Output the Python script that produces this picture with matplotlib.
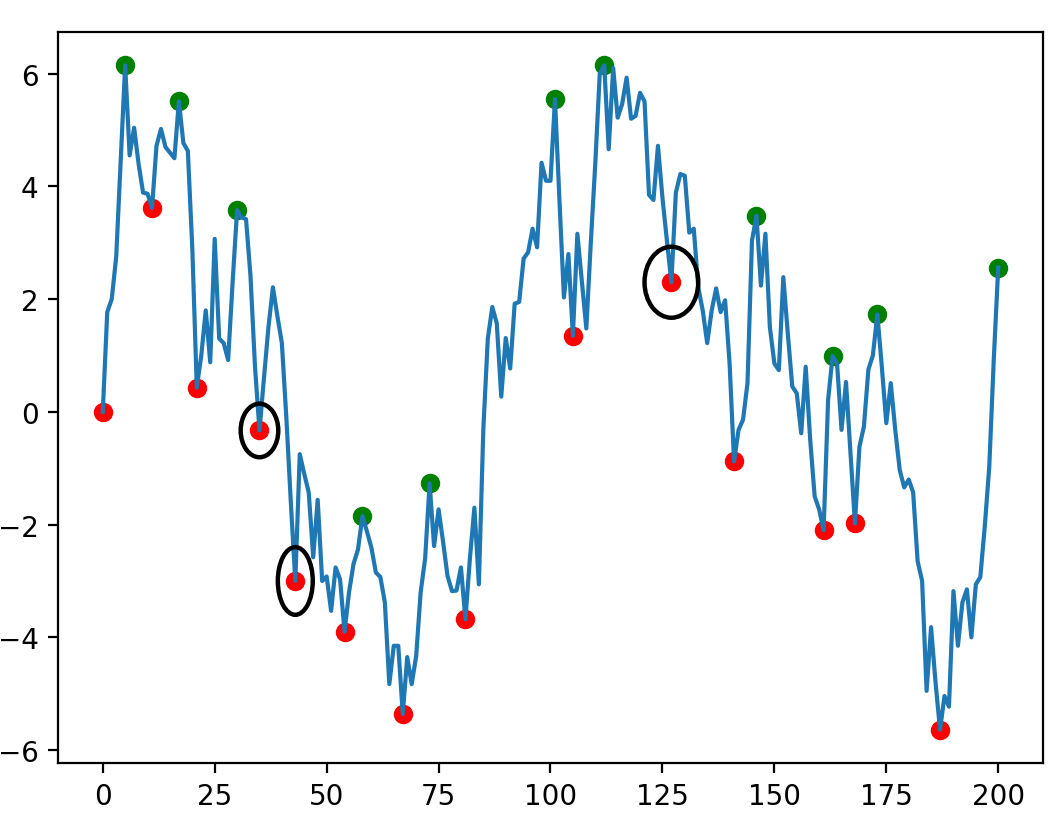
import matplotlib
matplotlib.use("Agg")
import matplotlib.pyplot as plt
from matplotlib.patches import Ellipse
import numpy as np

values = [
    0.0, 1.77, 2.0, 2.75, 4.45, 6.15, 4.55, 5.04, 4.4, 3.89,
    3.87, 3.62, 4.72, 5.02, 4.7, 4.6, 4.5, 5.51, 4.77, 4.63,
    2.9, 0.43, 1.0, 1.8, 0.88, 3.07, 1.3, 1.22, 0.92, 2.3,
    3.58, 3.45, 3.42, 2.4, 0.8, -0.33, 0.6, 1.5, 2.21, 1.7,
    1.22, -0.1, -1.6, -3.0, -0.75, -1.1, -1.43, -2.58, -1.56, -3.0,
    -2.92, -3.53, -2.76, -2.97, -3.9, -3.2, -2.7, -2.44, -1.85, -2.12,
    -2.41, -2.85, -2.93, -3.38, -4.83, -4.15, -4.15, -5.36, -4.35, -4.83,
    -4.33, -3.2, -2.6, -1.27, -2.38, -1.73, -2.3, -2.91, -3.18, -3.17,
    -2.76, -3.68, -2.6, -1.7, -3.06, -0.3, 1.3, 1.86, 1.57, 0.27,
    1.31, 0.77, 1.92, 1.95, 2.72, 2.83, 3.25, 2.92, 4.42, 4.1,
    4.1, 5.55, 3.75, 2.03, 2.8, 1.35, 3.16, 2.33, 1.48, 3.0,
    4.4, 6.0, 6.15, 4.66, 6.1, 5.22, 5.46, 5.93, 5.2, 5.25,
    5.66, 5.51, 3.85, 3.76, 4.72, 3.8, 3.04, 2.3, 3.89, 4.22,
    4.19, 3.18, 3.25, 2.21, 1.8, 1.22, 1.8, 2.19, 1.77, 1.98,
    0.86, -0.88, -0.32, -0.14, 0.51, 3.04, 3.48, 2.24, 3.16, 1.5,
    0.86, 0.74, 2.39, 1.39, 0.45, 0.33, -0.38, 0.8, -0.49, -1.5,
    -1.73, -2.1, 0.21, 0.99, 0.86, -0.32, 0.53, -0.73, -1.98, -0.62,
    -0.26, 0.75, 1.0, 1.73, 0.8, -0.2, 0.51, -0.32, -1.03, -1.34,
    -1.2, -1.43, -2.65, -3.0, -4.95, -3.82, -4.8, -5.64, -5.04, -5.23,
    -3.18, -4.15, -3.38, -3.15, -4.0, -3.06, -2.93, -2.03, -0.97, 0.92,
    2.56,
]
steps = list(range(len(values)))

peak_idx = [5, 17, 30, 58, 73, 101, 112, 146, 163, 173, 200]
trough_idx = [0, 11, 21, 35, 43, 54, 67, 81, 105, 127, 141, 161, 168, 187]
circled_idx = [35, 43, 127]

fig = plt.figure(figsize=(5.32, 4.145), dpi=200)
ax = fig.add_axes([58 / 1064, (829 - 764) / 829, (1043 - 58) / 1064, (764 - 33) / 829])

y = np.array(values)
x = np.array(steps)

ax.scatter(x[peak_idx], y[peak_idx], color="green")
ax.scatter(x[trough_idx], y[trough_idx], color="red")
ax.plot(x, y)

ell_w = [8.4, 7.8, 12.0]
ell_h = [0.95, 1.2, 1.26]
for i, w, h in zip(circled_idx, ell_w, ell_h):
    ax.add_patch(Ellipse((x[i], y[i]), w, h, fill=False, edgecolor="black",
                         linewidth=1.6, zorder=3))

ax.set_xticks([0, 25, 50, 75, 100, 125, 150, 175, 200])
ax.set_yticks([-6, -4, -2, 0, 2, 4, 6])

fig.savefig("out.png", dpi=200)
